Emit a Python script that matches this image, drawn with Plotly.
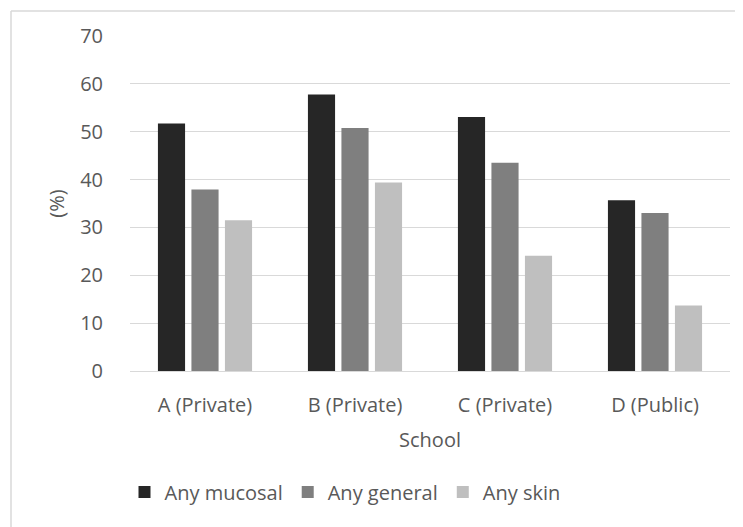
import plotly.graph_objects as go

schools = ["A (Private)", "B (Private)", "C (Private)", "D (Public)"]
mucosal = [51.7, 57.8, 53.1, 35.7]
general = [37.9, 50.8, 43.5, 33.0]
skin = [31.5, 39.4, 24.1, 13.7]
y_ticks = [0, 10, 20, 30, 40, 50, 60, 70]

FONT = "Open Sans"
FS = 20
TXT = "#595959"
GRID = "#d9d9d9"

fig = go.Figure()
for name, vals, col in [("Any mucosal", mucosal, "#262626"),
                        ("Any general", general, "#7f7f7f"),
                        ("Any skin", skin, "#bfbfbf")]:
    fig.add_trace(go.Bar(x=schools, y=vals, name=name,
                         marker=dict(color=col, line=dict(width=0))))

OFF = 8  # page body margin
W, H = 743 - OFF, 527 - OFF
L, R, T, B = 130 - OFF, 13, 36 - OFF, 156
pw, ph = W - L - R, H - T - B

def px(x):
    return (x - OFF - L) / pw

def py(y):
    return (T + ph - (y - OFF)) / ph

fig.update_layout(
    width=W, height=H,
    margin=dict(l=L, r=R, t=T, b=B),
    paper_bgcolor="white", plot_bgcolor="white",
    font=dict(family=FONT, size=FS, color=TXT),
    barmode="group", bargap=0.33, bargroupgap=0.19,
    showlegend=True,
    legend=dict(orientation="h", x=px(345), xanchor="center",
                y=py(492), yanchor="middle",
                font=dict(family=FONT, size=FS, color=TXT),
                itemwidth=30, traceorder="normal"),
    xaxis=dict(title=dict(text="School", standoff=15,
                          font=dict(family=FONT, size=FS, color=TXT)),
               showgrid=False, showline=False, zeroline=False,
               ticks="", ticklabelstandoff=20,
               tickfont=dict(family=FONT, size=FS, color=TXT)),
    yaxis=dict(title=dict(text="(%)", standoff=10,
                          font=dict(family=FONT, size=FS, color=TXT)),
               range=[0, 70], tickvals=y_ticks,
               showgrid=True, gridcolor=GRID, gridwidth=1,
               zeroline=True, zerolinecolor=GRID, zerolinewidth=1,
               showline=False, ticks="", ticklabelstandoff=26,
               tickfont=dict(family=FONT, size=FS, color=TXT)),
    shapes=[
        dict(type="line", xref="paper", yref="paper",
             x0=px(11), x1=px(760), y0=py(11), y1=py(11),
             line=dict(color=GRID, width=1.5)),
        dict(type="line", xref="paper", yref="paper",
             x0=px(11), x1=px(11), y0=py(11), y1=py(540),
             line=dict(color=GRID, width=1.5)),
    ],
)

fig.write_html("out.html")
